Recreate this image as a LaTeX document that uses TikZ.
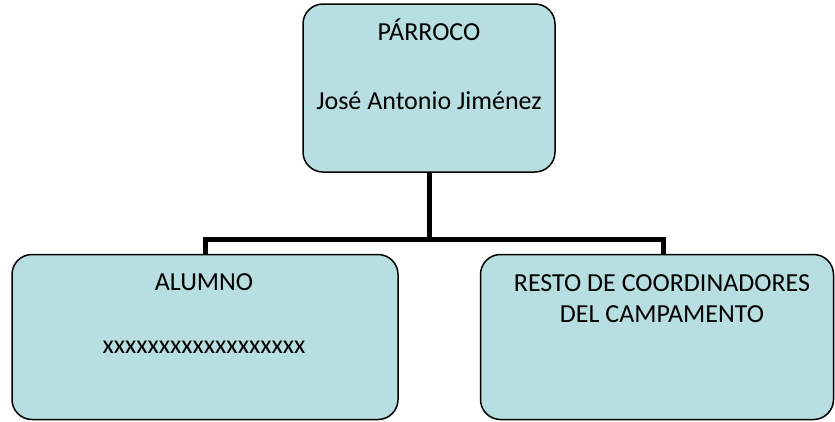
\documentclass[tikz,border=0pt]{standalone}
\usepackage{fontspec}
\setmainfont{Carlito}
\definecolor{boxfill}{HTML}{B7DEE1}
\begin{document}
\begin{tikzpicture}[x=1pt,y=-1pt,
  box/.style={draw=black,line width=1.5pt,fill=boxfill,rounded corners=20pt,inner sep=0pt},
  lbl/.style={anchor=base,inner sep=0pt,font=\fontsize{26}{30}\selectfont},
  conn/.style={draw=black,line width=5pt}]
\useasboundingbox (0,0) rectangle (835,421);
\node[box,minimum width=252pt,minimum height=168pt] (top) at (429,88) {};
\node[box,minimum width=386pt,minimum height=165pt] (alumno) at (205,337) {};
\node[box,minimum width=353pt,minimum height=165pt] (resto) at (657,337) {};
\node[lbl] (t1) at (429,40) {PÁRROCO};
\node[lbl] (t2) at (429,109) {José Antonio Jiménez};
\node[lbl] (a1) at (204,290) {ALUMNO};
\node[lbl] (a2) at (204,353) {xxxxxxxxxxxxxxxxxx};
\node[lbl] (r1) at (662,291) {RESTO DE COORDINADORES};
\node[lbl] (r2) at (662,322) {DEL CAMPAMENTO};
\coordinate (bus) at (429,239);
\coordinate (rin) at ([xshift=6pt]resto.north);
\draw[conn] (top.south) -- (bus);
\draw[conn] (alumno.north) -- (alumno.north |- bus) -- (rin |- bus) -- (rin);
\end{tikzpicture}
\end{document}
